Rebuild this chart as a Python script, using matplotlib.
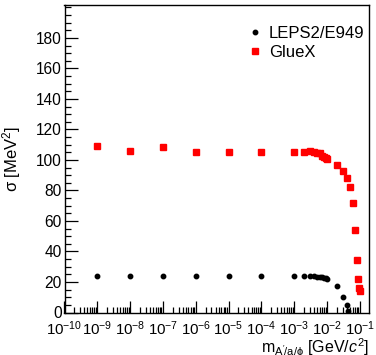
import matplotlib
matplotlib.use('Agg')
import matplotlib.pyplot as plt
import numpy as np
from matplotlib.ticker import FixedLocator, LogLocator, NullFormatter

plt.rcParams['font.family'] = ['Liberation Sans', 'DejaVu Sans']
plt.rcParams['mathtext.fontset'] = 'custom'
plt.rcParams['mathtext.rm'] = 'Liberation Sans'
plt.rcParams['mathtext.it'] = 'Liberation Sans:italic'
plt.rcParams['mathtext.bf'] = 'Liberation Sans:bold'

# LEPS2/E949 points
leps_m = [1e-9, 1e-8, 1e-7, 1e-6, 1e-5, 1e-4, 1e-3,
          2e-3, 3e-3, 4e-3, 5e-3, 6e-3, 7e-3, 8e-3, 9e-3, 1e-2,
          2e-2, 3e-2, 4e-2, 4.5e-2]
leps_s = [24, 24, 24, 24, 24, 24, 24,
          24, 23.9, 23.7, 23.5, 23.3, 23.1, 22.8, 22.5, 22.2,
          17.4, 10, 4.7, 1.2]

# GlueX points
glue_m = [1e-9, 1e-8, 1e-7, 1e-6, 1e-5, 1e-4, 1e-3,
          2e-3, 3e-3, 4e-3, 5e-3, 6e-3, 7e-3, 8e-3, 9e-3, 1e-2,
          2e-2, 3e-2, 4e-2, 5e-2, 6e-2, 7e-2, 8e-2, 9e-2, 9.6e-2, 1e-1]
glue_s = [109.4, 105.9, 108.7, 105.4, 105.2, 105.2, 105.4,
          105.4, 106.1, 105.2, 104.8, 104.4, 102.8, 102.2, 101.5, 100.7,
          96.9, 92.8, 88.4, 82.5, 71.6, 53.9, 34.4, 22, 16.2, 14]

W, H = 376, 355
fig = plt.figure(figsize=(W / 100, H / 100), dpi=100)
ax = fig.add_axes([64.5 / W, 1 - 312.5 / H, (369 - 64.5) / W, (312.5 - 5) / H])

ax.plot(leps_m, leps_s, 'o', color='black', markersize=3.2, linestyle='none',
        label='LEPS2/E949')
ax.plot(glue_m, glue_s, 's', color='#ff0000', markersize=3.8, linestyle='none',
        label='GlueX')

ax.set_xscale('log')
ax.set_xlim(1e-10, 0.19)
ax.set_ylim(0, 201.6)

ax.xaxis.set_major_locator(FixedLocator([10.0 ** k for k in range(-10, 0)]))
ax.xaxis.set_minor_locator(LogLocator(base=10, subs=np.arange(2, 10), numticks=100))
ax.xaxis.set_minor_formatter(NullFormatter())
ax.set_xticklabels([r'$10^{%d}$' % k for k in range(-10, 0)])

ax.yaxis.set_major_locator(FixedLocator(np.arange(0, 181, 20)))
ax.yaxis.set_minor_locator(FixedLocator(np.arange(0, 201, 5)))

ax.tick_params(which='both', direction='in', top=False, right=False,
               labelsize=11.2, width=0.9)
ax.tick_params(axis='x', labelsize=10.8)
ax.tick_params(axis='y', which='major', length=9, pad=2)
ax.tick_params(axis='y', which='minor', length=4.5)
ax.tick_params(axis='x', which='major', length=9, pad=5)
ax.tick_params(axis='x', which='minor', length=4.5)
for s in ax.spines.values():
    s.set_linewidth(1.0)

ax.set_ylabel('σ [MeV$^{2}$]', fontsize=12)
ax.yaxis.set_label_coords(-0.135, 0.5)
ax.set_xlabel(r"m$_{\mathrm{A'/a/\phi}}$ [GeV/$\mathit{c}^{2}$]", fontsize=11.5)
ax.xaxis.set_label_coords(1.0, -0.078)
ax.xaxis.label.set_horizontalalignment('right')

ax.legend(loc='upper left', bbox_to_anchor=(248 / W, 1 - 26 / H),
          bbox_transform=fig.transFigure, frameon=False, fontsize=12,
          handlelength=0.8, handletextpad=0.45, labelspacing=0.25,
          borderpad=0, borderaxespad=0, markerscale=1.0)

fig.savefig('out.png', dpi=100)
